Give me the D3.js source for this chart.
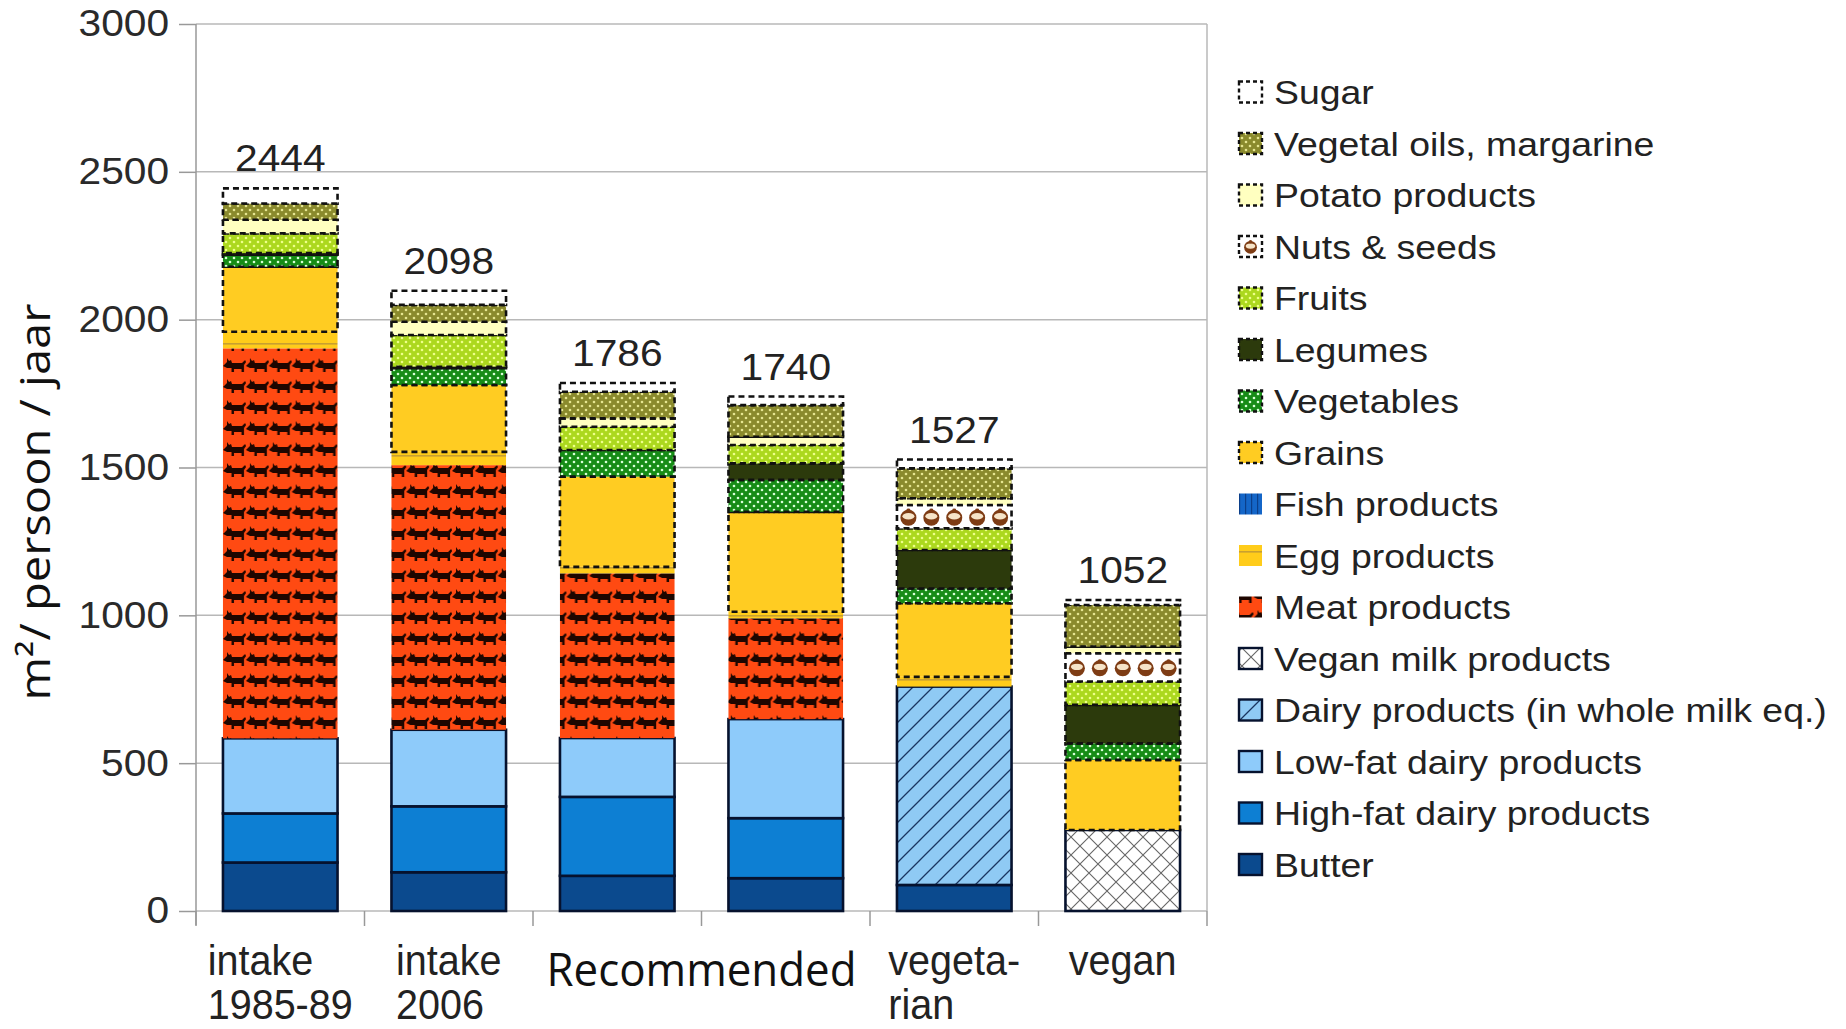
<!DOCTYPE html>
<html><head><meta charset="utf-8">
<script src="https://cdn.jsdelivr.net/npm/d3@7"></script>
<style>body{margin:0;background:#fff}svg{display:block}</style>
</head><body>
<svg id="chart" width="1846" height="1029"></svg>
<script>
// ---------- DATA ----------
const categories = ["intake 1985-89", "intake 2006", "Recommended A", "Recommended B", "vegetarian", "vegan"];
const categoryLines = [["intake", "1985-89"], ["intake", "2006"], [], [], ["vegeta-", "rian"], ["vegan"]];
const groupLabel = "Recommended";
const totals = [2444, 2098, 1786, 1740, 1527, 1052];
const yTicks = [0, 500, 1000, 1500, 2000, 2500, 3000];

const butter         = [164, 131, 119, 111,  88,   0];
const highFatDairy   = [166, 223, 267, 203,   0,   0];
const lowFatDairy    = [254, 259, 199, 335,   0,   0];
const dairyWholeMilk = [  0,   0,   0,   0, 671,   0];
const veganMilk      = [  0,   0,   0,   0,   0, 274];
const meat           = [1319, 895, 557, 341,  0,   0];
const egg            = [ 56,  45,  22,  22,  33,   0];
const fish           = [  0,   0,   0,   0,   0,   0];
const grains         = [220, 226, 305, 338, 249, 237];
const vegetables     = [ 41,  57,  90, 108,  50,  56];
const legumes        = [  5,   5,   0,  56, 130, 130];
const fruits         = [ 67, 107,  79,  62,  73,  79];
const nuts           = [  0,   0,   0,   0,  79,  96];
const potato         = [ 46,  45,  28,  28,  23,  22];
const oils           = [ 55,  57,  90, 107, 101, 141];
const sugar          = [ 51,  48,  30,  29,  30,  17];

// series, bottom to top
const series = [
  {key: "butter", name: "Butter", values: butter},
  {key: "highfat", name: "High-fat dairy products", values: highFatDairy},
  {key: "lowfat", name: "Low-fat dairy products", values: lowFatDairy},
  {key: "dairy", name: "Dairy products (in whole milk eq.)", values: dairyWholeMilk},
  {key: "veganmilk", name: "Vegan milk products", values: veganMilk},
  {key: "meat", name: "Meat products", values: meat},
  {key: "egg", name: "Egg products", values: egg},
  {key: "fish", name: "Fish products", values: fish},
  {key: "grains", name: "Grains", values: grains},
  {key: "veg", name: "Vegetables", values: vegetables},
  {key: "legumes", name: "Legumes", values: legumes},
  {key: "fruits", name: "Fruits", values: fruits},
  {key: "nuts", name: "Nuts & seeds", values: nuts},
  {key: "potato", name: "Potato products", values: potato},
  {key: "oils", name: "Vegetal oils, margarine", values: oils},
  {key: "sugar", name: "Sugar", values: sugar}
];

// ---------- STYLES ----------
const styles = {
  butter:   {fill: "#0b4a8e", border: "solid"},
  highfat:  {fill: "#0d7fd3", border: "solid"},
  lowfat:   {fill: "#8ecbfa", border: "solid"},
  dairy:    {fill: "url(#p-dairy)", border: "solid"},
  veganmilk:{fill: "url(#p-vegan)", border: "solid"},
  meat:     {fill: "url(#p-meat)", border: "none"},
  egg:      {fill: "url(#p-egg)", border: "none"},
  fish:     {fill: "url(#p-fish)", border: "none"},
  grains:   {fill: "#ffcc22", border: "dash"},
  veg:      {fill: "url(#p-veg)", border: "dash"},
  legumes:  {fill: "#2c3a0c", border: "dash"},
  fruits:   {fill: "url(#p-fruits)", border: "dash"},
  nuts:     {fill: "#ffffff", border: "dash"},
  potato:   {fill: "#ffffc0", border: "dash"},
  oils:     {fill: "url(#p-oils)", border: "dash"},
  sugar:    {fill: "#ffffff", border: "dash"}
};

const W = 1846, H = 1029;
const margin = {left: 196, right: 1846 - 1207, top: 24, bottom: 1029 - 911};
const svg = d3.select("#chart");
const FONT = "'Liberation Sans', Arial, sans-serif";

// ---------- PATTERNS ----------
const defs = svg.append("defs");
function dots(id, bg, dot) {
  const p = defs.append("pattern").attr("id", id).attr("patternUnits", "userSpaceOnUse").attr("width", 8).attr("height", 8);
  p.append("rect").attr("width", 8).attr("height", 8).attr("fill", bg);
  p.append("circle").attr("cx", 2).attr("cy", 2).attr("r", 1.3).attr("fill", dot);
  p.append("circle").attr("cx", 6).attr("cy", 6).attr("r", 1.3).attr("fill", dot);
}
dots("p-oils", "#8a8a2c", "#e6e690");
dots("p-fruits", "#acd81e", "#efff8a");
dots("p-veg", "#168c16", "#d8ffd8");
{
  const p = defs.append("pattern").attr("id", "p-egg").attr("patternUnits", "userSpaceOnUse").attr("width", 10).attr("height", 16);
  p.append("rect").attr("width", 10).attr("height", 16).attr("fill", "#ffcc1a");
  p.append("rect").attr("y", 7).attr("width", 10).attr("height", 1.6).attr("fill", "#c8a030");
}
{
  const p = defs.append("pattern").attr("id", "p-fish").attr("patternUnits", "userSpaceOnUse").attr("width", 6).attr("height", 6);
  p.append("rect").attr("width", 6).attr("height", 6).attr("fill", "#1466c8");
  p.append("rect").attr("x", 3).attr("width", 1.2).attr("height", 6).attr("fill", "#0b3f8a");
}
{
  const p = defs.append("pattern").attr("id", "p-meat").attr("patternUnits", "userSpaceOnUse")
    .attr("width", 22.9).attr("height", 21).attr("x", 223).attr("y", 0);
  p.append("rect").attr("width", 23).attr("height", 21).attr("fill", "#ff4a12");
  p.append("path").attr("fill", "#1e0600")
    .attr("d", "M0,9 L4,5 L4,1 L6,4 L8,3 L9,6 L19,6 L22,3 L23,5 L21,8 L21,15 L18.5,15 L18.5,12 L11,12 L11,15 L8.5,15 L8.5,11 L4,11 Z");
}
{
  const p = defs.append("pattern").attr("id", "p-dairy").attr("patternUnits", "userSpaceOnUse").attr("width", 20).attr("height", 20);
  p.append("rect").attr("width", 20).attr("height", 20).attr("fill", "#8fcaf4");
  p.append("path").attr("d", "M0,20 L20,0 M-5,5 L5,-5 M15,25 L25,15").attr("stroke", "#1a3560").attr("stroke-width", 1.3);
}
{
  const p = defs.append("pattern").attr("id", "p-vegan").attr("patternUnits", "userSpaceOnUse").attr("width", 18).attr("height", 18);
  p.append("rect").attr("width", 18).attr("height", 18).attr("fill", "#ffffff");
  p.append("path").attr("d", "M0,18 L18,0 M-4,4 L4,-4 M14,22 L22,14 M0,0 L18,18 M-4,14 L4,22 M14,-4 L22,4")
    .attr("stroke", "#666").attr("stroke-width", 1.1);
}

// ---------- SCALES ----------
const x = d3.scaleBand().domain(categories).range([margin.left, W - margin.right]).paddingInner(0.32).paddingOuter(0.16);
const y = d3.scaleLinear().domain([0, 3000]).range([H - margin.bottom, margin.top]);
const step = x.step();

// gridlines
svg.append("g").selectAll("line").data(yTicks).join("line")
  .attr("x1", margin.left).attr("x2", W - margin.right)
  .attr("y1", d => y(d)).attr("y2", d => y(d))
  .attr("stroke", "#b8b8b8").attr("stroke-width", 1.5);
// right border
svg.append("line").attr("x1", W - margin.right).attr("x2", W - margin.right)
  .attr("y1", y(3000)).attr("y2", y(0)).attr("stroke", "#b8b8b8").attr("stroke-width", 1.5);

// y axis
const yAxis = svg.append("g").attr("transform", `translate(${margin.left},0)`)
  .call(d3.axisLeft(y).tickValues(yTicks).tickSize(17).tickPadding(10).tickFormat(d3.format("d")));
yAxis.select(".domain").attr("stroke", "#999").attr("stroke-width", 1.5).attr("d", `M0,${y(3000)}V${y(0) + 14}`);
yAxis.selectAll(".tick line").attr("stroke", "#999").attr("stroke-width", 1.5);
yAxis.selectAll(".tick text").attr("font-family", FONT).attr("font-size", 37).attr("fill", "#2a2a2a")
  .attr("transform", "scale(1.1,1)").attr("x", -27 / 1.1);

// x axis ticks at band boundaries
const xb = d3.range(categories.length + 1).map(i => margin.left + i * step);
svg.append("g").selectAll("line").data(xb).join("line")
  .attr("x1", d => d).attr("x2", d => d).attr("y1", y(0)).attr("y2", y(0) + 15)
  .attr("stroke", "#999").attr("stroke-width", 1.5);

// ---------- STACKED BARS ----------
const table = categories.map((c, i) => {
  const row = {cat: c};
  series.forEach(s => row[s.key] = s.values[i]);
  return row;
});
const stack = d3.stack().keys(series.map(s => s.key))(table);
const barG = svg.append("g");
stack.forEach(layer => {
  const st = styles[layer.key];
  barG.append("g").selectAll("rect").data(layer.filter(d => d[1] - d[0] > 0)).join("rect")
    .attr("x", d => x(d.data.cat))
    .attr("width", x.bandwidth())
    .attr("y", d => y(d[1]))
    .attr("height", d => y(d[0]) - y(d[1]))
    .attr("fill", st.fill)
    .attr("stroke", st.border === "none" ? "none" : (st.border === "solid" ? "#06122e" : "#111"))
    .attr("stroke-width", st.border === "none" ? 0 : 2.6)
    .attr("stroke-dasharray", st.border === "dash" ? "6,4" : null);
  if (layer.key === "nuts") {
    layer.filter(d => d[1] - d[0] > 0).forEach(d => {
      const cy = (y(d[0]) + y(d[1])) / 2;
      const bw = x.bandwidth();
      for (let k = 0; k < 5; k++) {
        const cx = x(d.data.cat) + bw * (k + 0.5) / 5;
        drawNut(barG, cx, cy, 1);
      }
    });
  }
});

function drawNut(g, cx, cy, s) {
  g.append("circle").attr("cx", cx).attr("cy", cy + 1 * s).attr("r", 8 * s).attr("fill", "#7e3c14");
  g.append("ellipse").attr("cx", cx).attr("cy", cy - 0.5 * s).attr("rx", 6 * s).attr("ry", 3.2 * s).attr("fill", "#f6e4c8");
  g.append("circle").attr("cx", cx).attr("cy", cy - 6 * s).attr("r", 2.2 * s).attr("fill", "#7e3c14");
}

// totals
svg.append("g").selectAll("text").data(categories).join("text")
  .attr("transform", (c, i) => `translate(${x(c) + x.bandwidth() / 2},${y(totals[i]) - 17}) scale(1.1,1)`)
  .attr("text-anchor", "middle").attr("font-family", FONT).attr("font-size", 37).attr("fill", "#222")
  .text((c, i) => totals[i]);

// category labels
categories.forEach((c, i) => {
  const lines = categoryLines[i];
  if (!lines.length) return;
  const cx = x(c) + x.bandwidth() / 2;
  const t = svg.append("text").attr("font-family", FONT).attr("font-size", 43).attr("fill", "#222");
  lines.forEach((ln, j) => t.append("tspan").attr("x", 0).attr("y", j * 44).text(ln));
  let maxW = 0;
  t.selectAll("tspan").each(function () { maxW = Math.max(maxW, this.getComputedTextLength()); });
  const sx = 0.92;
  t.attr("transform", `translate(${cx - maxW * sx / 2},975) scale(${sx},1)`);
});
// group label spanning bars 3 and 4
svg.append("text")
  .attr("x", (x(categories[2]) + x(categories[3]) + x.bandwidth()) / 2)
  .attr("y", 986).attr("text-anchor", "middle")
  .attr("font-family", "'Open Sans', sans-serif").attr("font-size", 46).attr("fill", "#111")
  .attr("textLength", 310).attr("lengthAdjust", "spacingAndGlyphs")
  .text(groupLabel);

// y title
svg.append("text")
  .attr("transform", `translate(50,502) rotate(-90)`)
  .attr("text-anchor", "middle")
  .attr("font-family", "'Liberation Sans Narrow', 'Open Sans', sans-serif").attr("font-size", 42).attr("fill", "#111")
  .attr("textLength", 397).attr("lengthAdjust", "spacingAndGlyphs")
  .text("m²/ persoon / jaar");

// ---------- LEGEND ----------
const legendItems = series.slice().reverse();
const lg = svg.append("g");
legendItems.forEach((s, i) => {
  const cy = 92 + i * 51.5;
  const st = styles[s.key];
  lg.append("rect").attr("x", 1239).attr("y", cy - 10.5).attr("width", 23).attr("height", 21)
    .attr("fill", st.fill)
    .attr("stroke", st.border === "none" ? "none" : (st.border === "solid" ? "#06122e" : "#111"))
    .attr("stroke-width", st.border === "none" ? 0 : 2.4)
    .attr("stroke-dasharray", st.border === "dash" ? "4,3" : null);
  if (s.key === "nuts") drawNut(lg, 1250.5, cy, 0.8);
  lg.append("text").attr("transform", `translate(1274,${cy + 12}) scale(1.1,1)`)
    .attr("font-family", FONT).attr("font-size", 34).attr("fill", "#222").text(s.name);
});
</script>
</body></html>
